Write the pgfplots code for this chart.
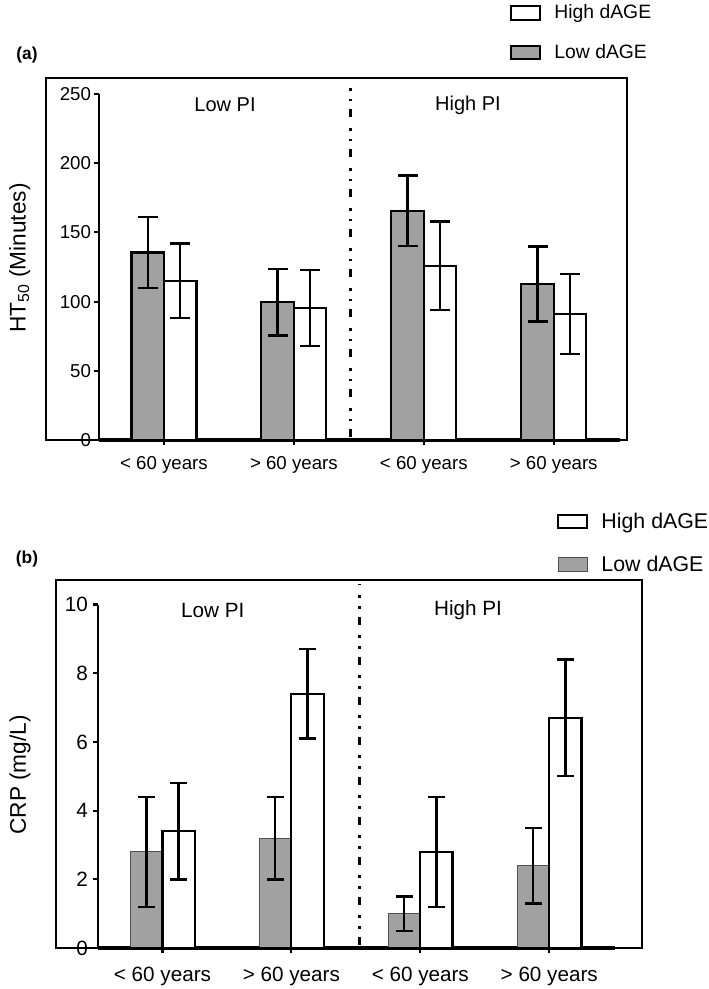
\documentclass[border=0pt]{standalone}
\usepackage{fontspec}
\setmainfont{Liberation Sans}
\usepackage{pgfplots}
\pgfplotsset{compat=1.18}
\definecolor{barGray}{RGB}{161,161,161}

\pgfplotsset{
  panel/.style={
    scale only axis,
    axis x line=bottom, axis y line=left,
    axis line style={-, line width=1.9pt},
    x axis line style={line width=2.6pt},
    xmin=0.5, xmax=4.51, ymin=0,
    xtick={1,2,3,4},
    xticklabels={< 60 years, > 60 years, < 60 years, > 60 years},
    tick align=outside, major tick length=4pt,
    tick style={line width=1.6pt, black},
    ybar=0pt, bar width=0.25,
    clip=false,
    /pgf/number format/assume math mode=true,
    legend cell align=left,
    reverse legend,
    legend image code/.code={\draw[##1] (0pt,-5pt) rectangle (21.5pt,5pt);},
  },
  errs/.style={error bars/.cd, y dir=both, y explicit,
    error bar style={line width=1.8pt, black},
    error mark options={rotate=90, line width=1.8pt, mark size=#1, black}},
}
\tikzset{dashdot/.style={line width=2.3pt, dash pattern=on 6pt off 6pt on 2pt off 6pt on 2pt off 8pt}}

\begin{document}
\begin{tikzpicture}
\path[use as bounding box] (0pt,0pt) rectangle (531.75pt,-741.75pt);

% (a) HT50
\begin{axis}[panel,
  at={(74.25pt,-330pt)}, anchor=south west,
  width=390.75pt, height=259.5pt,
  ymax=250, ytick={0,50,...,250},
  ticklabel style={font=\fontsize{14}{16}\selectfont},
  yticklabel style={xshift=1.5pt},
  xticklabel style={yshift=-4.5pt},
  ylabel={HT\textsubscript{50} (Minutes)},
  ylabel style={at={(axis description cs:-0.152,0.526)}, anchor=center, font=\fontsize{17}{20}\selectfont},
  legend style={at={(axis description cs:0.789,1.266)}, anchor=north west, draw=none, fill=none,
    inner sep=0pt, row sep=13.5pt, font=\fontsize{14.5}{17}\selectfont,
    /tikz/every odd column/.append style={column sep=8pt}},
]
\addplot[fill=barGray, draw=black, line width=1.6pt, errs=7.5pt]
  coordinates {(1,135.5) +- (0,25.5) (2,99.5) +- (0,24) (3,165.5) +- (0,25.5) (4,112.7) +- (0,27)};
\addlegendentry{Low dAGE}
\addplot[fill=white, draw=black, line width=1.6pt, errs=7.5pt]
  coordinates {(1,115) +- (0,27) (2,95.5) +- (0,27.5) (3,126) +- (0,32) (4,91) +- (0,29)};
\addlegendentry{High dAGE}
\draw[line width=1.5pt] (axis cs:0.092,0) rectangle (axis cs:4.565,261.6);
\draw[dashdot] (axis cs:2.438,2) -- (axis cs:2.438,261.6);
\node[font=\fontsize{15}{18}\selectfont] at (axis cs:1.47,242) {Low PI};
\node[font=\fontsize{15}{18}\selectfont] at (axis cs:3.34,242) {High PI};
\node[font=\bfseries\fontsize{13}{15}\selectfont] at (axis cs:-0.054,278) {(a)};
\end{axis}

% (b) CRP
\begin{axis}[panel,
  at={(73.5pt,-711pt)}, anchor=south west,
  width=387.75pt, height=257.625pt,
  ymax=10, ytick={0,2,...,10},
  ticklabel style={font=\fontsize{15.5}{18}\selectfont},
  xticklabel style={yshift=-6.5pt},
  ylabel={CRP (mg/L)},
  ylabel style={at={(axis description cs:-0.151,0.504)}, anchor=center, font=\fontsize{17}{20}\selectfont},
  legend style={at={(axis description cs:0.888,1.275)}, anchor=north west, draw=none, fill=none,
    inner sep=0pt, row sep=15pt, font=\fontsize{16}{19}\selectfont,
    /tikz/every odd column/.append style={column sep=8pt}},
]
\addplot[fill=barGray, draw={rgb,255:red,80;green,80;blue,80}, line width=0.7pt, errs=6.3pt]
  coordinates {(1,2.8) +- (0,1.6) (2,3.2) +- (0,1.2) (3,1.0) +- (0,0.5) (4,2.4) +- (0,1.1)};
\addlegendentry{Low dAGE}
\addplot[fill=white, draw=black, line width=1.6pt, errs=6.3pt]
  coordinates {(1,3.4) +- (0,1.4) (2,7.4) +- (0,1.3) (3,2.8) +- (0,1.6) (4,6.7) +- (0,1.7)};
\addlegendentry{High dAGE}
\draw[line width=1.5pt] (axis cs:0.174,0) rectangle (axis cs:4.72,10.71);
\draw[dashdot] (axis cs:2.527,0.1) -- (axis cs:2.527,10.6);
\node[font=\fontsize{15.5}{18}\selectfont] at (axis cs:1.39,9.84) {Low PI};
\node[font=\fontsize{15.5}{18}\selectfont] at (axis cs:3.37,9.84) {High PI};
\node[font=\bfseries\fontsize{13}{15}\selectfont] at (axis cs:-0.051,11.32) {(b)};
\end{axis}
\end{tikzpicture}
\end{document}
